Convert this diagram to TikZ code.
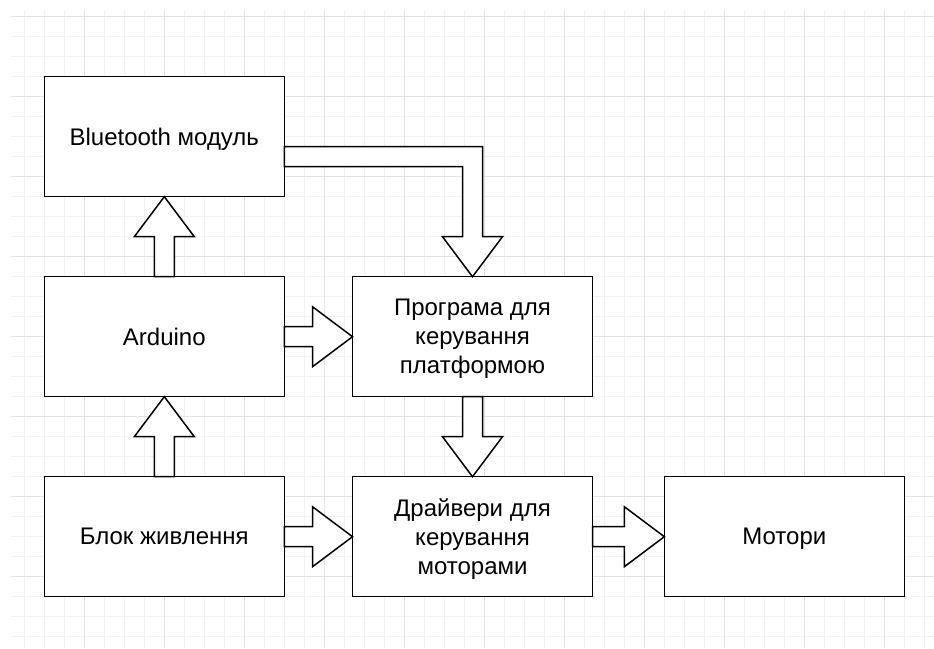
\documentclass[tikz,border=0pt]{standalone}
\usepackage{fontspec}
\setmainfont{Liberation Sans}
\usetikzlibrary{calc}

\begin{document}
\begin{tikzpicture}[x=1pt,y=-1pt]
  \tikzset{BoxStyle/.style = {
    shape         = rectangle,
    draw          = black,
    fill          = white,
    line width    = 1.5pt,
    text          = black,
    align         = center,
    inner sep     = 1pt,
    outer sep     = 0pt,
    text depth    = 0pt,
    minimum width = 240pt,
    minimum height= 120pt,
    font          = \fontsize{24}{29}\selectfont
    }
  }
  \tikzset{ArrowStyle/.style = {
    draw          = black,
    fill          = white,
    line width    = 1.5pt,
    line join     = miter
    }
  }
  \tikzset{MinorGridStyle/.style = {draw = black!5, line width = 1pt}}
  \tikzset{MajorGridStyle/.style = {draw = black!11, line width = 1pt}}

  \useasboundingbox[fill=white] (0,0) rectangle (934,648);

  % grid
  \foreach \gx in {24.3,44.3,...,924.3} \draw[MinorGridStyle] (\gx,10) -- (\gx,648);
  \foreach \gy in {36.7,56.7,...,636.7} \draw[MinorGridStyle] (11,\gy) -- (934,\gy);
  \foreach \gx in {84.3,164.3,...,884.3} \draw[MajorGridStyle] (\gx,10) -- (\gx,648);
  \foreach \gy in {16.7,96.7,...,576.7} \draw[MajorGridStyle] (11,\gy) -- (934,\gy);

	\node[BoxStyle](A1) at (164.3, 136.7) {Bluetooth модуль};
	\node[BoxStyle](A2) at (164.3, 336.7) {Arduino};
	\node[BoxStyle](A3) at (164.3, 536.7) {Блок живлення};
	\node[BoxStyle](B1) at (472.5, 336.7) {Програма для\\керування\\платформою};
	\node[BoxStyle](B2) at (472.5, 536.7) {Драйвери для\\керування\\моторами};
	\node[BoxStyle](C1) at (784.3, 536.7) {Мотори};

  % block arrows
	\draw[ArrowStyle] ($(A2.north)+(-10,0)$) -- ++(0,-40) -- ++(-20,0) -- (A1.south)
	  -- ++(30,40) -- ++(-20,0) -- ($(A2.north)+(10,0)$) -- cycle;
	\draw[ArrowStyle] ($(A3.north)+(-10,0)$) -- ++(0,-40) -- ++(-20,0) -- (A2.south)
	  -- ++(30,40) -- ++(-20,0) -- ($(A3.north)+(10,0)$) -- cycle;
	\draw[ArrowStyle] ($(A1.east)+(0,10)$) -- ($(B1.north)+(10,-130)$) -- ++(0,90) -- ++(20,0)
	  -- (B1.north) -- ++(-30,-40) -- ++(20,0) -- ($(B1.north)+(-10,-110)$)
	  -- ($(A1.east)+(0,30)$) -- cycle;
	\draw[ArrowStyle] ($(A2.east)+(0,-10)$) -- ($(B1.west)+(-40,-10)$) -- ++(0,-20) -- (B1.west)
	  -- ++(-40,30) -- ++(0,-20) -- ($(A2.east)+(0,10)$) -- cycle;
	\draw[ArrowStyle] ($(B1.south)+(-10,0)$) -- ++(0,40) -- ++(-20,0) -- (B2.north)
	  -- ++(30,-40) -- ++(-20,0) -- ($(B1.south)+(10,0)$) -- cycle;
	\draw[ArrowStyle] ($(A3.east)+(0,-10)$) -- ($(B2.west)+(-40,-10)$) -- ++(0,-20) -- (B2.west)
	  -- ++(-40,30) -- ++(0,-20) -- ($(A3.east)+(0,10)$) -- cycle;
	\draw[ArrowStyle] ($(B2.east)+(0,-10)$) -- ($(C1.west)+(-40,-10)$) -- ++(0,-20) -- (C1.west)
	  -- ++(-40,30) -- ++(0,-20) -- ($(B2.east)+(0,10)$) -- cycle;

\end{tikzpicture}
\end{document}
